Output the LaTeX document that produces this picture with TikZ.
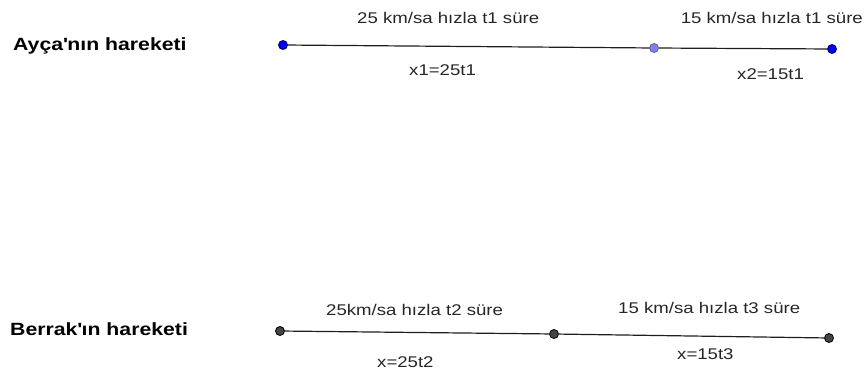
\documentclass[tikz,border=0pt]{standalone}
\usepackage{fontspec}
\setmainfont{Liberation Sans}[FakeStretch=1.2]
\definecolor{dotblue}{RGB}{0,0,255}
\definecolor{dotlight}{RGB}{125,125,255}
\definecolor{dotgray}{RGB}{68,68,68}
\definecolor{seg}{RGB}{30,30,30}
\begin{document}
\begin{tikzpicture}[x=1pt,y=-1pt,
  lbl/.style={inner sep=0pt,anchor=base west,font=\fontsize{15.5}{18}\selectfont,text=black!85},
  title/.style={inner sep=0pt,anchor=base west,font=\fontsize{17.7}{20}\selectfont\bfseries},
  dotA/.style={circle,draw=black!70!blue,fill=dotblue,line width=0.8pt,minimum size=9pt,inner sep=0pt},
  dotL/.style={circle,draw=black!60,fill=dotlight,line width=0.8pt,minimum size=9pt,inner sep=0pt},
  dotB/.style={circle,draw=black,fill=dotgray,line width=0.8pt,minimum size=9pt,inner sep=0pt},
  segline/.style={draw=seg,line width=1.2pt}]
\useasboundingbox (0,0) rectangle (866,377);
% Ayca
\node[title] (ta) at (13,51) {Ayça\textquotesingle nın hareketi};
\node[dotA] (a1) at (283,45) {};
\node[dotL] (a2) at (654,48) {};
\node[dotA] (a3) at (832,49) {};
\draw[segline] (a1) -- (a2);
\draw[segline] (a2) -- (a3);
\node[lbl] (la1) at (357,24) {25 km/sa hızla t1 süre};
\node[lbl,anchor=base east] (la2) at (863,23.5) {15 km/sa hızla t1 süre};
\node[lbl] (lx1) at (409,76) {x1=25t1};
\node[lbl] (lx2) at (737,80) {x2=15t1};
% Berrak
\node[title] (tb) at (10,335) {Berrak\textquotesingle ın hareketi};
\node[dotB] (b1) at (280,331) {};
\node[dotB] (b2) at (554,334) {};
\node[dotB] (b3) at (829,338) {};
\draw[segline] (b1) -- (b2);
\draw[segline] (b2) -- (b3);
\node[lbl] (lb1) at (326,315) {25km/sa hızla t2 süre};
\node[lbl] (lb2) at (618,313) {15 km/sa hızla t3 süre};
\node[lbl] (ly1) at (377,367) {x=25t2};
\node[lbl] (ly2) at (677,359) {x=15t3};
\end{tikzpicture}
\end{document}
